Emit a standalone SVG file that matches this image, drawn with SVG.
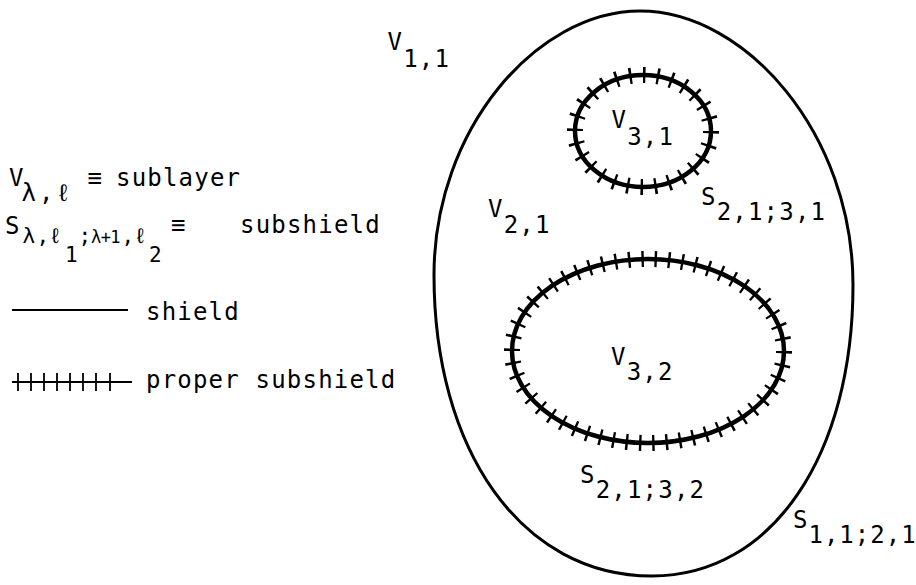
<svg xmlns="http://www.w3.org/2000/svg" width="916" height="585" viewBox="0 0 916 585">
<style>
text{font-family:"DejaVu Sans Mono","Liberation Mono",monospace;font-size:24px;letter-spacing:1.2px;fill:#000}
.s21{font-size:21px;letter-spacing:0}
.tight{font-size:17px;letter-spacing:-0.6px}
.shield{fill:none;stroke:#000;stroke-width:3}
.sub{fill:none;stroke:#000;stroke-width:4.5}
.ticks{fill:none;stroke:#000;stroke-width:16;stroke-dasharray:0.18 0.82}
.leg{fill:none;stroke:#000;stroke-width:1.8}
</style>
<rect width="916" height="585" fill="#fff"/>
<g id="legend">
<text x="9" y="186">V<tspan x="21.5" y="201">λ</tspan><tspan x="39" y="201">,</tspan><tspan x="56" y="201">ℓ</tspan><tspan x="87.5" y="186">≡</tspan><tspan x="116" y="186">sublayer</tspan></text>
<text x="5" y="234" style="letter-spacing:0">S<tspan class="s21" x="22.5" y="243">λ</tspan><tspan class="s21" x="36.5" y="243">,</tspan><tspan class="s21" x="49" y="243">ℓ</tspan><tspan class="s21" x="65" y="262">1</tspan><tspan class="s21" x="78.5" y="243">;</tspan><tspan class="tight" x="91" y="243">λ+1</tspan><tspan class="s21" x="121.5" y="243">,</tspan><tspan class="s21" x="134" y="243">ℓ</tspan><tspan class="s21" x="149" y="262">2</tspan><tspan x="171" y="233">≡</tspan><tspan x="240" y="233" style="letter-spacing:1.2px">subshield</tspan></text>
<line class="leg" x1="12" y1="310" x2="128" y2="310"/>
<text x="146" y="320">shield</text>
<line class="leg" x1="12" y1="382" x2="132" y2="382"/>
<path class="leg" d="M18,373V391M31,373V391M44,373V391M57,373V391M70,373V391M83,373V391M96,373V391M110,373V391"/>
<text x="146" y="388">proper subshield</text>
</g>
<g id="shield-V21">
<path class="shield" d="M640,11 C746,11 853,134 853,285 C853,454 773,576 652,576 C521,576 434,450 434,275 C434,129 537,11 640,11 Z"/>
<text x="793" y="528" style="letter-spacing:1px">S<tspan dy="15">1,1;2,1</tspan></text>
<text x="488" y="217">V<tspan dy="16">2,1</tspan></text>
</g>
<g id="outside-V11">
<text x="387.5" y="50">V<tspan dy="17">1,1</tspan></text>
</g>
<g id="subshield-V31">
<ellipse class="sub" cx="643" cy="131" rx="68" ry="56"/>
<ellipse class="ticks" cx="643" cy="131" rx="68" ry="56" pathLength="28"/>
<text x="611.5" y="128">V<tspan dy="17">3,1</tspan></text>
<text x="701" y="205">S<tspan dy="15">2,1;3,1</tspan></text>
</g>
<g id="subshield-V32">
<ellipse class="sub" cx="648" cy="351" rx="136" ry="92"/>
<ellipse class="ticks" cx="648" cy="351" rx="136" ry="92" pathLength="54"/>
<text x="611" y="365">V<tspan dy="15">3,2</tspan></text>
<text x="580" y="483">S<tspan dy="15">2,1;3,2</tspan></text>
</g>
<g id="connectors"/>
</svg>
